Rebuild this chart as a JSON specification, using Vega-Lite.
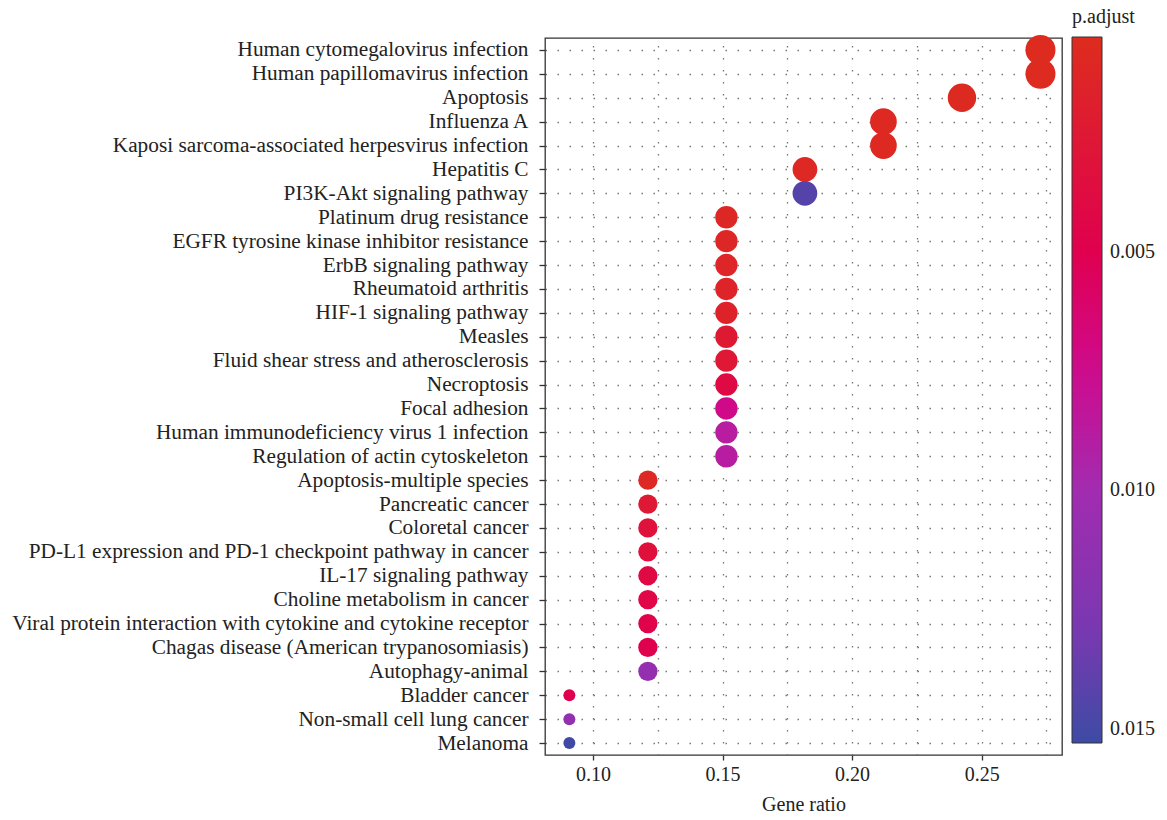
{
  "$schema": "https://vega.github.io/schema/vega-lite/v6.json",
  "width": 517,
  "height": 717,
  "padding": {"left": 11, "top": 7, "right": 5, "bottom": 5},
  "background": "white",
  "config": {
    "font": "Liberation Serif",
    "view": {"stroke": "#333333", "strokeWidth": 1.3},
    "axis": {
      "labelFont": "Liberation Serif",
      "titleFont": "Liberation Serif",
      "labelColor": "#222222",
      "titleColor": "#222222",
      "titleFontWeight": "normal",
      "domain": false,
      "tickColor": "#333333",
      "tickWidth": 1.3,
      "gridColor": "#777777",
      "gridDash": [1.5, 10.5],
      "gridWidth": 1.3
    },
    "legend": {
      "labelFont": "Liberation Serif",
      "titleFont": "Liberation Serif"
    }
  },
  "data": {
    "values": [
      {"term": "Human cytomegalovirus infection", "ratio": 0.2727, "count": 9, "padj": 0.0006},
      {"term": "Human papillomavirus infection", "ratio": 0.2727, "count": 9, "padj": 0.0006},
      {"term": "Apoptosis", "ratio": 0.2424, "count": 8, "padj": 0.0008},
      {"term": "Influenza A", "ratio": 0.2121, "count": 7, "padj": 0.0009},
      {"term": "Kaposi sarcoma-associated herpesvirus infection", "ratio": 0.2121, "count": 7, "padj": 0.0009},
      {"term": "Hepatitis C", "ratio": 0.1818, "count": 6, "padj": 0.0010},
      {"term": "PI3K-Akt signaling pathway", "ratio": 0.1818, "count": 6, "padj": 0.0143},
      {"term": "Platinum drug resistance", "ratio": 0.1515, "count": 5, "padj": 0.0011},
      {"term": "EGFR tyrosine kinase inhibitor resistance", "ratio": 0.1515, "count": 5, "padj": 0.0012},
      {"term": "ErbB signaling pathway", "ratio": 0.1515, "count": 5, "padj": 0.0013},
      {"term": "Rheumatoid arthritis", "ratio": 0.1515, "count": 5, "padj": 0.0015},
      {"term": "HIF-1 signaling pathway", "ratio": 0.1515, "count": 5, "padj": 0.0016},
      {"term": "Measles", "ratio": 0.1515, "count": 5, "padj": 0.0024},
      {"term": "Fluid shear stress and atherosclerosis", "ratio": 0.1515, "count": 5, "padj": 0.0026},
      {"term": "Necroptosis", "ratio": 0.1515, "count": 5, "padj": 0.0040},
      {"term": "Focal adhesion", "ratio": 0.1515, "count": 5, "padj": 0.0073},
      {"term": "Human immunodeficiency virus 1 infection", "ratio": 0.1515, "count": 5, "padj": 0.0088},
      {"term": "Regulation of actin cytoskeleton", "ratio": 0.1515, "count": 5, "padj": 0.0088},
      {"term": "Apoptosis-multiple species", "ratio": 0.1212, "count": 4, "padj": 0.0010},
      {"term": "Pancreatic cancer", "ratio": 0.1212, "count": 4, "padj": 0.0025},
      {"term": "Coloretal cancer", "ratio": 0.1212, "count": 4, "padj": 0.0032},
      {"term": "PD-L1 expression and PD-1 checkpoint pathway in cancer", "ratio": 0.1212, "count": 4, "padj": 0.0033},
      {"term": "IL-17 signaling pathway", "ratio": 0.1212, "count": 4, "padj": 0.0040},
      {"term": "Choline metabolism in cancer", "ratio": 0.1212, "count": 4, "padj": 0.0044},
      {"term": "Viral protein interaction with cytokine and cytokine receptor", "ratio": 0.1212, "count": 4, "padj": 0.0047},
      {"term": "Chagas disease (American trypanosomiasis)", "ratio": 0.1212, "count": 4, "padj": 0.0049},
      {"term": "Autophagy-animal", "ratio": 0.1212, "count": 4, "padj": 0.0110},
      {"term": "Bladder cancer", "ratio": 0.0909, "count": 3, "padj": 0.0050},
      {"term": "Non-small cell lung cancer", "ratio": 0.0909, "count": 3, "padj": 0.0111},
      {"term": "Melanoma", "ratio": 0.0909, "count": 3, "padj": 0.0152}
    ]
  },
  "mark": {"type": "circle", "opacity": 1},
  "encoding": {
    "x": {
      "field": "ratio",
      "type": "quantitative",
      "scale": {"domain": [0.0815, 0.281], "nice": false, "zero": false},
      "axis": {
        "title": "Gene ratio",
        "values": [0.1, 0.125, 0.15, 0.175, 0.2, 0.225, 0.25, 0.275],
        "labelExpr": "round(datum.value * 1000) % 50 === 0 ? format(datum.value, '.2f') : ''",
        "tickOpacity": {"condition": {"test": "round(datum.value * 1000) % 50 === 0", "value": 1}, "value": 0},
        "tickSize": 5,
        "labelFont": "Liberation Serif",
        "titleFont": "Liberation Serif",
        "labelFontSize": 20,
        "labelPadding": 4,
        "titleFontSize": 20,
        "titlePadding": 10,
        "grid": true
      }
    },
    "y": {
      "field": "term",
      "type": "nominal",
      "sort": null,
      "axis": {
        "title": null,
        "tickSize": 6,
        "labelFont": "Liberation Serif",
        "labelFontSize": 21.3,
        "labelPadding": 11,
        "labelLimit": 1000,
        "grid": true
      }
    },
    "size": {
      "field": "count",
      "type": "quantitative",
      "scale": {"domain": [3, 4, 5, 6, 7, 8, 9], "range": [144, 374, 501, 611, 713, 808, 900]},
      "legend": null
    },
    "color": {
      "field": "padj",
      "type": "quantitative",
      "scale": {
        "domain": [0.0153, 0.0128, 0.01, 0.0075, 0.005, 0.0005],
        "range": ["#3D4BA5", "#7C37B1", "#A22CB0", "#CF0A8E", "#E0004F", "#DD2D1E"],
        "interpolate": "rgb"
      },
      "legend": {
        "title": "p.adjust",
        "orient": "none",
        "legendX": 527,
        "legendY": -31,
        "direction": "vertical",
        "gradientLength": 706,
        "gradientThickness": 30,
        "gradientStrokeColor": "#333333",
        "gradientStrokeWidth": 1,
        "values": [0.005, 0.01, 0.015],
        "format": ".3f",
        "labelFont": "Liberation Serif",
        "labelFontSize": 20,
        "labelColor": "#222222",
        "labelOffset": 8,
        "titleFont": "Liberation Serif",
        "titleFontSize": 20,
        "titleFontWeight": "normal",
        "titleColor": "#222222",
        "titlePadding": 10
      }
    }
  }
}
